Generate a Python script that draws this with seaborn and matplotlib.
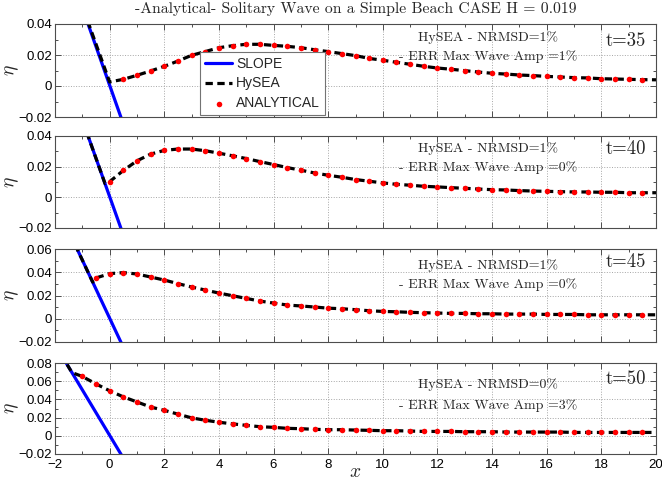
import numpy as np
import pandas as pd
import matplotlib
matplotlib.use("Agg")
import matplotlib.pyplot as plt
from matplotlib.ticker import MultipleLocator, FuncFormatter
import seaborn as sns

# ========================= DATEN =========================
TITLE = "-Analytical- Solitary Wave on a Simple Beach CASE H = 0.019"
times = [35, 40, 45, 50]
nrmsd = ["1%", "1%", "1%", "0%"]
err_amp = ["1%", "0%", "0%", "3%"]
ylims = [(-0.02, 0.04), (-0.02, 0.04), (-0.02, 0.06), (-0.02, 0.08)]

# beach profile (slope 1:20)
beach_x = [-2.0, 2.0]
beach_y = [0.1005, -0.0995]

# analytical solution, every 0.5 in x
tail_x = [8.5, 9.0, 9.5, 10.0, 10.5, 11.0, 11.5, 12.0, 12.5, 13.0, 13.5, 14.0,
          14.5, 15.0, 15.5, 16.0, 16.5, 17.0, 17.5, 18.0, 18.5, 19.0, 19.5]

ana_x_35 = [0.5, 1.0, 1.5, 2.0, 2.5, 3.0, 3.5, 4.0, 4.5, 5.0, 5.5, 6.0, 6.5, 7.0, 7.5, 8.0] + tail_x
ana_y_35 = [0.0043, 0.0069, 0.0097, 0.0127, 0.0161, 0.0198, 0.0222, 0.0247, 0.0260, 0.0269,
            0.0269, 0.0262, 0.0256, 0.0247, 0.0234, 0.0222,
            0.0209, 0.0196, 0.0178, 0.0166, 0.0153, 0.0140, 0.0127, 0.0116, 0.0108, 0.0099,
            0.0090, 0.0082, 0.0077, 0.0071, 0.0067, 0.0062, 0.0058, 0.0054, 0.0052, 0.0047,
            0.0045, 0.0043, 0.0041]

ana_x_40 = [0.0, 0.5, 1.0, 1.5, 2.0, 2.5, 3.0, 3.5, 4.0, 4.5, 5.0, 5.5, 6.0, 6.5, 7.0, 7.5, 8.0] + tail_x
ana_y_40 = [0.0102, 0.0175, 0.0238, 0.0282, 0.0306, 0.0315, 0.0315, 0.0304, 0.0288, 0.0271,
            0.0253, 0.0233, 0.0214, 0.0194, 0.0177, 0.0159, 0.0144,
            0.0131, 0.0116, 0.0105, 0.0094, 0.0085, 0.0079, 0.0072, 0.0068, 0.0063, 0.0059,
            0.0054, 0.0050, 0.0048, 0.0044, 0.0041, 0.0039, 0.0037, 0.0035, 0.0035, 0.0033,
            0.0033, 0.0030, 0.0030]

ana_x_45 = [-0.5, 0.0, 0.5, 1.0, 1.5, 2.0, 2.5, 3.0, 3.5, 4.0, 4.5, 5.0, 5.5, 6.0, 6.5, 7.0, 7.5, 8.0] + tail_x
ana_y_45 = [0.0351, 0.0388, 0.0397, 0.0385, 0.0359, 0.0333, 0.0302, 0.0273, 0.0247, 0.0221,
            0.0198, 0.0175, 0.0152, 0.0135, 0.0118, 0.0110, 0.0101, 0.0091,
            0.0086, 0.0078, 0.0069, 0.0063, 0.0060, 0.0055, 0.0052, 0.0049, 0.0046, 0.0046,
            0.0043, 0.0043, 0.0040, 0.0040, 0.0040, 0.0037, 0.0037, 0.0037, 0.0034, 0.0034,
            0.0034, 0.0034, 0.0034]

ana_x_50 = [-1.0, -0.5, 0.0, 0.5, 1.0, 1.5, 2.0, 2.5, 3.0, 3.5, 4.0, 4.5, 5.0, 5.5, 6.0, 6.5,
            7.0, 7.5, 8.0] + tail_x
ana_y_50 = [0.0652, 0.0570, 0.0495, 0.0428, 0.0372, 0.0316, 0.0280, 0.0238, 0.0197, 0.0171,
            0.0149, 0.0131, 0.0115, 0.0100, 0.0093, 0.0082, 0.0078, 0.0071, 0.0067,
            0.0067, 0.0063, 0.0060, 0.0056, 0.0056, 0.0052, 0.0048, 0.0048, 0.0048, 0.0045,
            0.0045, 0.0045, 0.0041, 0.0041, 0.0041, 0.0041, 0.0041, 0.0037, 0.0037, 0.0037,
            0.0037, 0.0037, 0.0037]

# HySEA: dry part follows the beach, then the wave, up to x = 20
hysea_dry_x = [[-2.0, 0.0], [-2.0, -0.17], [-2.0, -0.62], [-2.0, -1.38]]
hysea_dry_y = [[0.1005, 0.0026], [0.1005, 0.0090], [0.1005, 0.0315], [0.1005, 0.0695]]
hysea_end_y = [0.0040, 0.0030, 0.0034, 0.0037]

ana_x = [ana_x_35, ana_x_40, ana_x_45, ana_x_50]
ana_y = [ana_y_35, ana_y_40, ana_y_45, ana_y_50]

# ========================= STIL =========================
sns.set_style("ticks")
plt.rcParams["font.family"] = ["Liberation Sans", "DejaVu Sans"]
plt.rcParams["mathtext.fontset"] = "cm"
plt.rcParams["axes.unicode_minus"] = True

# axes positions in figure pixels (top, bottom)
panel_px = [(24, 117), (136, 228), (249, 342), (363, 454)]
W, H = 662, 482
left_px, right_px = 55, 656

t_y = [0.817, 0.859, 0.864, 0.82]
l1_y = [0.85, 0.859, 0.82, 0.758]
l2_y = [0.645, 0.66, 0.613, 0.527]


def fmt_tick(v, pos):
    if abs(v) < 1e-9:
        return "0"
    return ("%g" % v).replace("-", "\u2212")


fig = plt.figure(figsize=(W / 100, H / 100), dpi=100)

for i, t in enumerate(times):
    top, bot = panel_px[i]
    ax = fig.add_axes([left_px / W, 1 - bot / H, (right_px - left_px) / W, (bot - top) / H])

    slope_df = pd.DataFrame({"x": beach_x, "y": beach_y})
    hy_df = pd.DataFrame({"x": hysea_dry_x[i] + ana_x[i] + [20.0],
                          "y": hysea_dry_y[i] + ana_y[i] + [hysea_end_y[i]]})
    an_df = pd.DataFrame({"x": ana_x[i], "y": ana_y[i]})

    sns.lineplot(data=slope_df, x="x", y="y", ax=ax, color=(0, 0, 1), lw=2.3,
                 label="SLOPE", sort=False, legend=False)
    sns.lineplot(data=hy_df, x="x", y="y", ax=ax, color="black", lw=2.3,
                 linestyle=(0, (2.3, 1.4)), label="HySEA", sort=False, legend=False)
    sns.scatterplot(data=an_df, x="x", y="y", ax=ax, color=(1, 0, 0), s=16,
                    linewidth=0, label="ANALYTICAL", legend=False, zorder=4)

    ax.set_xlim(-2, 20)
    ax.set_ylim(*ylims[i])
    ax.xaxis.set_major_locator(MultipleLocator(2))
    ax.xaxis.set_minor_locator(MultipleLocator(1))
    ax.yaxis.set_major_locator(MultipleLocator(0.02))
    ax.yaxis.set_minor_locator(MultipleLocator(0.01))
    ax.yaxis.set_major_formatter(FuncFormatter(fmt_tick))
    ax.xaxis.set_major_formatter(FuncFormatter(fmt_tick))
    ax.tick_params(which="both", direction="in", top=True, right=True,
                   colors="0.3", labelcolor="black", labelsize=9.5, width=0.7)
    ax.tick_params(which="major", length=4, pad=2)
    ax.tick_params(axis="x", which="major", pad=3.5)
    ax.tick_params(which="minor", length=2)
    ax.grid(True, which="major", ls=":", lw=0.7, color="0.65")
    for sp in ax.spines.values():
        sp.set_color("0.3")
        sp.set_linewidth(0.8)

    ax.set_ylabel(r"$\eta$", fontsize=14)
    ax.yaxis.set_label_coords(-0.056, 0.5)
    if i < 3:
        ax.set_xlabel("")
        ax.tick_params(labelbottom=False)
    else:
        ax.set_xlabel(r"$x$", fontsize=14, labelpad=-5)

    ax.text(0.72, l1_y[i], "HySEA - NRMSD=" + nrmsd[i], transform=ax.transAxes,
            ha="center", va="center", fontfamily="cmr10", fontsize=10)
    ax.text(0.72, l2_y[i], "- ERR Max Wave Amp =" + err_amp[i], transform=ax.transAxes,
            ha="center", va="center", fontfamily="cmr10", fontsize=10)
    ax.text(0.983, t_y[i], "t=%d" % t, transform=ax.transAxes,
            ha="right", va="center", fontfamily="cmr10", fontsize=13.5)

    if i == 0:
        leg = ax.legend(loc="lower left", bbox_to_anchor=(0.241, 0.02), borderaxespad=0,
                        fancybox=False, framealpha=1, edgecolor="0.45", fontsize=10,
                        handlelength=2.0, handletextpad=0.25, borderpad=0.35,
                        labelspacing=0.42)
        leg.get_frame().set_linewidth(0.8)

fig.text((left_px + right_px) / 2 / W, 1 - 9 / H, TITLE, ha="center", va="center",
         fontfamily="cmr10", fontsize=11.3)

fig.savefig("out.png", dpi=100)
